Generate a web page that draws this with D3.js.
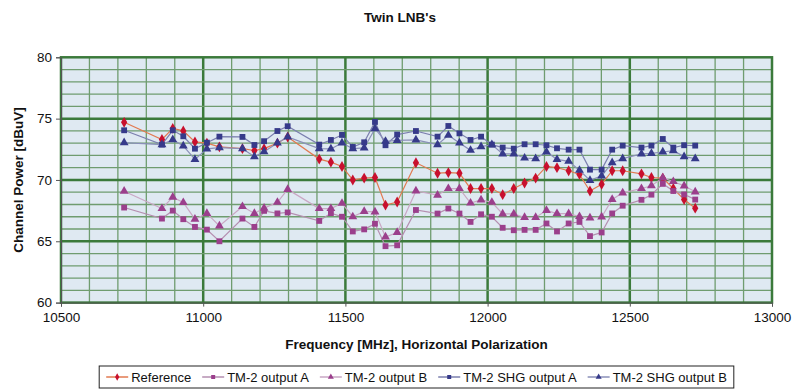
<!DOCTYPE html>
<html><head><meta charset="utf-8">
<script src="https://cdn.jsdelivr.net/npm/d3@7"></script>
<style>body{margin:0;background:#fff}svg{display:block;font-family:"Liberation Sans",Arial,sans-serif}</style>
</head><body><svg id="c" width="799" height="390"></svg>
<script>
const title = "Twin LNB's";
const xTitle = "Frequency [MHz], Horizontal Polarization";
const yTitle = "Channel Power [dBuV]";
const xTicks = [10500, 11000, 11500, 12000, 12500, 13000];
const yTicks = [60, 65, 70, 75, 80];
const freqs = [10722,10855,10893,10930,10971,11013,11057,11138,11180,11214,11261,11297,11408,11449,11488,11526,11566,11604,11641,11682,11748,11824,11862,11901,11940,11977,12015,12053,12092,12130,12169,12207,12244,12285,12323,12360,12401,12438,12475,12541,12576,12616,12653,12691,12730];
const reference = [74.7,73.3,74.2,74.0,73.1,73.0,72.7,72.55,72.4,72.55,73.0,73.5,71.7,71.45,71.1,70.0,70.15,70.2,67.95,68.2,71.4,70.55,70.6,70.55,69.3,69.3,69.3,68.8,69.3,69.75,70.15,71.1,71.0,70.75,70.45,69.1,69.65,70.75,70.75,70.5,70.2,70.15,69.3,68.4,67.7];
const tm2A = [67.75,66.85,67.5,66.8,66.17,65.95,65.0,66.85,66.17,67.48,67.27,67.35,66.66,67.3,67.0,65.8,65.97,66.43,64.6,64.67,67.55,67.26,67.67,67.26,66.58,67.2,67.0,66.1,65.9,65.93,65.93,66.45,65.8,66.45,66.58,65.42,65.72,67.27,67.9,68.38,68.8,69.68,69.1,68.82,68.4];
const tm2B = [69.08,67.67,68.6,68.16,66.8,67.27,66.25,67.83,67.27,67.7,68.18,69.23,67.67,67.67,68.1,67.0,67.43,67.4,65.35,65.72,69.1,68.76,69.3,69.3,68.12,68.38,68.18,67.23,67.23,66.94,66.94,67.52,67.26,67.25,67.02,66.91,66.98,68.41,68.95,69.3,69.53,70.17,69.87,69.52,69.03];
const shgA = [74.05,72.88,74.05,73.56,72.55,73.04,73.53,73.51,72.85,73.16,73.99,74.38,72.88,73.26,73.67,72.69,73.07,74.73,72.83,73.7,73.99,73.53,74.4,73.8,73.26,73.53,72.88,72.64,72.55,72.91,72.91,72.83,72.58,72.47,72.47,70.84,70.84,72.47,72.8,72.64,72.8,73.34,72.64,72.83,72.8];
const shgB = [73.04,72.88,73.29,72.77,71.68,72.53,72.64,72.55,71.9,72.3,73.02,73.5,72.55,72.53,73.02,72.55,72.61,74.18,73.15,73.23,73.26,72.88,73.64,73.02,72.42,72.72,72.88,72.12,72.12,71.79,71.74,72.28,71.68,71.52,70.79,69.97,70.33,71.41,71.74,72.12,72.17,72.28,72.39,71.9,71.74];
const seriesNames = ["Reference","TM-2 output A","TM-2 output B","TM-2 SHG output A","TM-2 SHG output B"];

const series = [
  {name: seriesNames[0], values: reference, line: "#e27a50", mark: "#c8102e", sym: d3.symbolDiamond, size: 34},
  {name: seriesNames[1], values: tm2A, line: "#b58fb0", mark: "#9b3f8c", sym: d3.symbolSquare, size: 34},
  {name: seriesNames[2], values: tm2B, line: "#c9a7c4", mark: "#9b3f8c", sym: d3.symbolTriangle, size: 34},
  {name: seriesNames[3], values: shgA, line: "#7b7fae", mark: "#363a8a", sym: d3.symbolSquare, size: 34},
  {name: seriesNames[4], values: shgB, line: "#8a8fb8", mark: "#363a8a", sym: d3.symbolTriangle, size: 34}
];

const svg = d3.select("#c");
const L = 61, R = 772, T = 57.3, B = 302.6;
const x = d3.scaleLinear().domain([10500, 13000]).range([L, R]);
const y = d3.scaleLinear().domain([60, 80]).range([B, T]);

svg.append("rect").attr("x", L).attr("y", T).attr("width", R - L).attr("height", B - T).attr("fill", "#dfe9f2");

// grid
const g = svg.append("g");
d3.range(10600, 13000, 100).forEach(v => {
  const major = v % 500 === 0;
  g.append("line").attr("x1", x(v)).attr("x2", x(v)).attr("y1", T).attr("y2", B)
    .attr("stroke", major ? "#3b7a3b" : "#6f9c6f").attr("stroke-width", major ? 2.5 : 1.3);
});
d3.range(61, 80, 1).forEach(v => {
  const major = v % 5 === 0;
  g.append("line").attr("x1", L).attr("x2", R).attr("y1", y(v)).attr("y2", y(v))
    .attr("stroke", major ? "#3b7a3b" : "#6f9c6f").attr("stroke-width", major ? 2.5 : 1.3);
});
svg.append("rect").attr("x", L).attr("y", T).attr("width", R - L).attr("height", B - T)
  .attr("fill", "none").attr("stroke", "#3b7a3b").attr("stroke-width", 2.5);

// axes
const yAxis = svg.append("g").attr("transform", `translate(${L},0)`)
  .call(d3.axisLeft(y).tickValues(yTicks).tickSize(5).tickPadding(4).tickFormat(d3.format("d")));
const xAxis = svg.append("g").attr("transform", `translate(0,${B})`)
  .call(d3.axisBottom(x).tickValues(xTicks).tickSize(4).tickPadding(6).tickFormat(d3.format("d")));
[yAxis, xAxis].forEach(a => {
  a.select(".domain").attr("stroke", "#555").attr("stroke-width", 1);
  a.selectAll(".tick line").attr("stroke", "#555");
  a.selectAll("text").attr("font-size", 13.5).attr("fill", "#111").attr("font-family", '"Liberation Sans",Arial,sans-serif');
});

// series
const lineGen = d3.line().x((d, i) => x(freqs[i])).y(d => y(d));
series.forEach(s => {
  svg.append("path").datum(s.values).attr("d", lineGen).attr("fill", "none")
    .attr("stroke", s.line).attr("stroke-width", 1.2);
});
series.forEach(s => {
  svg.append("g").selectAll("path").data(s.values).join("path")
    .attr("transform", (d, i) => `translate(${x(freqs[i])},${y(d)})`)
    .attr("d", d3.symbol(s.sym, s.size)).attr("fill", s.mark);
});

// titles
svg.append("text").attr("x", 400).attr("y", 22).attr("text-anchor", "middle")
  .attr("font-size", 13.5).attr("font-weight", "bold").attr("fill", "#111").text(title);
svg.append("text").attr("x", (L + R) / 2).attr("y", 349).attr("text-anchor", "middle")
  .attr("font-size", 13.5).attr("font-weight", "bold").attr("fill", "#111").text(xTitle);
svg.append("text").attr("transform", `translate(23,${(T + B) / 2}) rotate(-90)`).attr("text-anchor", "middle")
  .attr("font-size", 13.5).attr("font-weight", "bold").attr("fill", "#111").text(yTitle);

// legend
const lg = svg.append("g");
const box = lg.append("rect").attr("fill", "#fff").attr("stroke", "#222").attr("stroke-width", 1);
let cx = 7;
series.forEach(s => {
  const it = lg.append("g").attr("transform", `translate(${cx},11)`);
  it.append("line").attr("x1", 0).attr("x2", 22).attr("y1", 0).attr("y2", 0).attr("stroke", s.line).attr("stroke-width", 1.5);
  it.append("path").attr("transform", "translate(11,0)").attr("d", d3.symbol(s.sym, 16)).attr("fill", s.mark);
  const t = it.append("text").attr("x", 25).attr("y", 4.5).attr("font-size", 13).attr("fill", "#111").text(s.name);
  cx += 25 + t.node().getComputedTextLength() + 11;
});
const lw = cx - 4;
const lx = (L + R) / 2 - lw / 2;
box.attr("x", 0).attr("y", 0).attr("width", lw).attr("height", 22);
lg.attr("transform", `translate(${lx},366)`);
</script></body></html>
